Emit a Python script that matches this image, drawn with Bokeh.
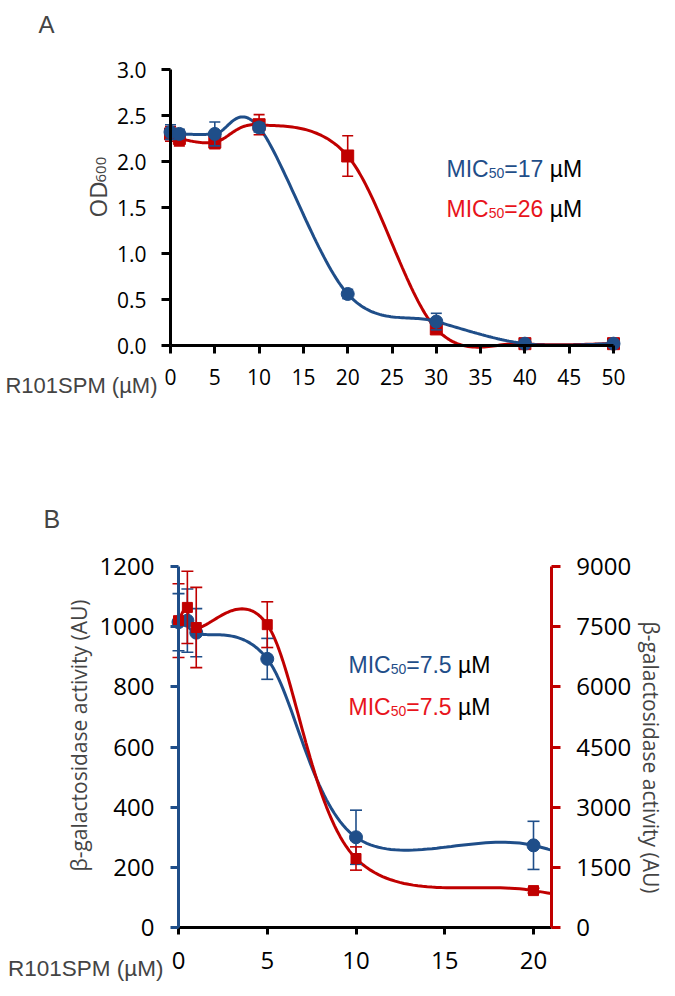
import numpy as np
from bokeh.plotting import figure
from bokeh.models import Range1d, LinearAxis, FixedTicker, Label, NumeralTickFormatter
from bokeh.layouts import column
from bokeh.embed import file_html
from bokeh.resources import INLINE

# ---------------- data ----------------
# Panel A: OD600 vs R101SPM
a_x = [0, 1, 5, 10, 20, 30, 40, 50]
a_blue = [2.32, 2.30, 2.30, 2.37, 0.56, 0.26, 0.02, 0.02]
a_blue_err = [0.08, 0.05, 0.13, 0.05, 0.05, 0.09, 0.02, 0.02]
a_red = [2.30, 2.25, 2.21, 2.40, 2.06, 0.18, 0.02, 0.02]
a_red_err = [0.08, 0.08, 0.07, 0.11, 0.22, 0.03, 0.01, 0.01]
a_xticks = [0, 5, 10, 15, 20, 25, 30, 35, 40, 45, 50]
a_yticks = [0.0, 0.5, 1.0, 1.5, 2.0, 2.5, 3.0]
a_mic_blue = "=17"
a_mic_red = "=26"

# Panel B: beta-galactosidase activity vs R101SPM
b_x = [0, 0.5, 1, 5, 10, 20]
b_blue = [1015, 1020, 980, 893, 300, 273]          # left axis (AU)
b_blue_err = [95, 105, 80, 68, 90, 80]
b_red = [7650, 7980, 7480, 7550, 1720, 920]        # right axis (AU)
b_red_err = [920, 900, 1000, 570, 290, 60]
b_next_x = 30                                      # curves continue past the axis end
b_blue_next = 30
b_red_next = 250
b_xticks = [0, 5, 10, 15, 20]
b_yticks_left = [0, 200, 400, 600, 800, 1000, 1200]
b_yticks_right = [0, 1500, 3000, 4500, 6000, 7500, 9000]
b_mic_blue = "=7.5"
b_mic_red = "=7.5"

BLUE = "#1F4E89"
RED = "#C00000"
TXT_BLUE = "#1F4E89"
TXT_RED = "#E8141C"
OFF = 0  # page offset of the canvas

# ---------------- helpers ----------------
def smooth(xs, ys, sx, sy, n=40, xmax=None):
    P = np.column_stack([np.asarray(xs, float) * sx, np.asarray(ys, float) * sy])
    m = len(P)
    out = []
    t = np.linspace(0, 1, n)[:, None]
    for i in range(m - 1):
        p0 = P[i - 1] if i > 0 else P[i]
        p1, p2 = P[i], P[i + 1]
        p3 = P[i + 2] if i + 2 < m else P[i + 1]
        c1 = p1 + (p2 - p0) / 6.0
        c2 = p2 - (p3 - p1) / 6.0
        seg = (1 - t) ** 3 * p1 + 3 * (1 - t) ** 2 * t * c1 + 3 * (1 - t) * t ** 2 * c2 + t ** 3 * p2
        out.append(seg if i == 0 else seg[1:])
    pts = np.vstack(out)
    x, y = pts[:, 0] / sx, pts[:, 1] / sy
    if xmax is not None:
        k = np.searchsorted(x, xmax)
        if k < len(x):
            ye = y[k - 1] + (y[k] - y[k - 1]) * (xmax - x[k - 1]) / (x[k] - x[k - 1])
            x = np.append(x[:k], xmax)
            y = np.append(y[:k], ye)
    return x, y

ARIAL = {'M': 0.833, 'I': 0.278, 'C': 0.722, '=': 0.584, '.': 0.278, ' ': 0.278, '\u00b5': 0.576}
def tw(s, size):
    return sum(ARIAL.get(c, 0.556) for c in s) * size

class Mapper:
    """page-pixel -> data conversion for a figure whose frame is the whole canvas"""
    def __init__(self, W, H, x0px, sx, y0px, sy, top):
        self.sx, self.sy, self.top = sx, sy, top
        self.xr = (-(x0px - OFF) / sx, (W - (x0px - OFF)) / sx)
        self.yr = ((y0px - top - H) / sy, (y0px - top) / sy)
    def X(self, page_x):
        return self.xr[0] + (page_x - OFF) / self.sx
    def Y(self, page_y):
        return self.yr[1] - (page_y - self.top) / self.sy

def mic_line(p, m, left, base, color, val, size=23, sub=14, drop=4):
    pieces = [("MIC", color, size, 0, 0), ("50", color, sub, drop, 0), (val, color, size, 0, 0),
              ("\u00b5M", "black", size, 0, tw(" ", size))]
    dx = 0.0
    for txt, col, fs, dr, gap in pieces:
        dx += gap
        p.add_layout(Label(x=m.X(left + dx), y=m.Y(base + dr), text=txt, text_color=col,
                           text_font="Liberation Sans", text_font_size=f"{fs}px",
                           text_align="left", text_baseline="alphabetic"))
        dx += tw(txt, fs)

def style_axis(ax, color, font_size, standoff, tick_out):
    ax.axis_line_width = 3
    ax.axis_line_color = color
    ax.major_tick_line_width = 3
    ax.major_tick_line_color = color
    ax.major_tick_out = tick_out
    ax.major_tick_in = 0
    ax.minor_tick_out = 0
    ax.minor_tick_in = 0
    ax.major_label_text_font = "Open Sans"
    ax.major_label_text_font_size = font_size
    ax.major_label_text_color = "black"
    ax.major_label_standoff = standoff

def errbars(p, xs, ys, errs, color, cap, y_range_name="default"):
    lo = [y - e for y, e in zip(ys, errs)]
    hi = [y + e for y, e in zip(ys, errs)]
    p.segment(x0=xs, y0=lo, x1=xs, y1=hi, line_color=color, line_width=1.6,
              y_range_name=y_range_name)
    p.scatter(x=xs + xs, y=lo + hi, marker="dash", size=cap, line_color=color,
              line_width=1.6, y_range_name=y_range_name)

def make_fig(W, H, m):
    p = figure(width=W, height=H, x_range=Range1d(*m.xr), y_range=Range1d(*m.yr),
               x_axis_type=None, y_axis_type=None, output_backend="svg", toolbar_location=None,
               min_border_left=0, min_border_right=0, min_border_top=0, min_border_bottom=0)
    p.outline_line_color = None
    p.background_fill_color = "white"
    return p

# ---------------- Panel A ----------------
A_W, A_H = 670, 476
mA = Mapper(A_W, A_H, x0px=170, sx=443 / 50, y0px=345, sy=276 / 3.0, top=OFF)
pa = make_fig(A_W, A_H, mA)

ya = LinearAxis(fixed_location=0, bounds=(0, 3), ticker=FixedTicker(ticks=a_yticks),
                formatter=NumeralTickFormatter(format="0.0"))
style_axis(ya, "black", "21px", 15, 9)
pa.add_layout(ya, "left")
xa = LinearAxis(fixed_location=0, bounds=(0, 50), ticker=FixedTicker(ticks=a_xticks))
style_axis(xa, "black", "21px", 15, 8)
pa.add_layout(xa, "below")

cx, cy = smooth(a_x, a_red, mA.sx, mA.sy)
pa.line(cx, cy, line_color=RED, line_width=3)
cx, cy = smooth(a_x, a_blue, mA.sx, mA.sy)
pa.line(cx, cy, line_color=BLUE, line_width=3)
errbars(pa, a_x, a_red, a_red_err, RED, 11)
pa.scatter(a_x, a_red, marker="square", size=12, fill_color=RED, line_color=RED)
errbars(pa, a_x, a_blue, a_blue_err, BLUE, 11)
pa.scatter(a_x, a_blue, marker="circle", size=13, fill_color=BLUE, line_color=BLUE)

mic_line(pa, mA, 446, 168, TXT_BLUE, a_mic_blue)
mic_line(pa, mA, 446, 208, TXT_RED, a_mic_red)

pa.add_layout(Label(x=mA.X(38), y=mA.Y(24), text="A", text_font="Liberation Sans",
                    text_font_size="24px", text_align="left", text_baseline="alphabetic"))
pa.add_layout(Label(x=mA.X(157), y=mA.Y(385), text="R101SPM (\u00b5M)", text_font="Liberation Sans",
                    text_font_size="22px", text_align="right", text_baseline="alphabetic"))
pa.add_layout(Label(x=mA.X(97), y=mA.Y(217), text="OD", angle=np.pi / 2, text_font="Open Sans",
                    text_font_size="24px", text_align="left", text_baseline="alphabetic"))
pa.add_layout(Label(x=mA.X(100), y=mA.Y(182), text="600", angle=np.pi / 2, text_font="Open Sans",
                    text_font_size="15px", text_align="left", text_baseline="alphabetic"))

# ---------------- Panel B ----------------
B_W, B_H = 670, 520
mB = Mapper(B_W, B_H, x0px=178, sx=355 / 20, y0px=927, sy=361 / 1200, top=OFF + A_H)
pb = make_fig(B_W, B_H, mB)
RF = 7.5  # right / left scale factor
pb.extra_y_ranges = {"right": Range1d(mB.yr[0] * RF, mB.yr[1] * RF)}

yl = LinearAxis(fixed_location=0, bounds=(0, 1200), ticker=FixedTicker(ticks=b_yticks_left))
style_axis(yl, BLUE, "24px", 16, 8)
pb.add_layout(yl, "left")
yr = LinearAxis(fixed_location=21, y_range_name="right", bounds=(0, 9000),
                ticker=FixedTicker(ticks=b_yticks_right))
style_axis(yr, RED, "24px", 16, 9)
pb.add_layout(yr, "right")
xb = LinearAxis(fixed_location=0, bounds=(0, 21), ticker=FixedTicker(ticks=b_xticks))
style_axis(xb, "black", "24px", 17, 7)
pb.add_layout(xb, "below")

cx, cy = smooth(b_x + [b_next_x], b_blue + [b_blue_next], mB.sx, mB.sy, xmax=21)
pb.line(cx, cy, line_color=BLUE, line_width=3)
cx, cy = smooth(b_x + [b_next_x], b_red + [b_red_next], mB.sx, mB.sy / RF, xmax=21)
pb.line(cx, cy, line_color=RED, line_width=3, y_range_name="right")
errbars(pb, b_x, b_blue, b_blue_err, BLUE, 12)
pb.scatter(b_x, b_blue, marker="circle", size=13, fill_color=BLUE, line_color=BLUE)
errbars(pb, b_x, b_red, b_red_err, RED, 12, "right")
pb.scatter(b_x, b_red, marker="square", size=10, fill_color=RED, line_color=RED,
           y_range_name="right")

mic_line(pb, mB, 348, 664, TXT_BLUE, b_mic_blue)
mic_line(pb, mB, 348, 706, TXT_RED, b_mic_red)

pb.add_layout(Label(x=mB.X(43), y=mB.Y(518), text="B", text_font="Liberation Sans",
                    text_font_size="25px", text_align="left", text_baseline="alphabetic"))
pb.add_layout(Label(x=mB.X(163), y=mB.Y(968), text="R101SPM (\u00b5M)", text_font="Liberation Sans",
                    text_font_size="22.5px", text_align="right", text_baseline="alphabetic"))
pb.add_layout(Label(x=mB.X(78), y=mB.Y(735), text="\u03b2-galactosidase activity (AU)",
                    angle=np.pi / 2, text_font="Open Sans", text_font_size="21px",
                    text_align="center", text_baseline="middle"))
pb.add_layout(Label(x=mB.X(650), y=mB.Y(757), text="\u03b2-galactosidase activity (AU)",
                    angle=-np.pi / 2, text_font="Open Sans", text_font_size="21px",
                    text_align="center", text_baseline="middle"))

layout = column(pa, pb, spacing=0)
open("out.html", "w").write(file_html(layout, INLINE))
